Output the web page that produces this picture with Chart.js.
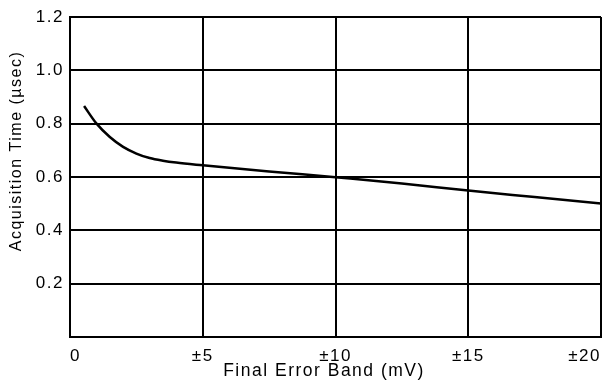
<!DOCTYPE html>
<html>
<head>
<meta charset="utf-8">
<script src="https://cdn.jsdelivr.net/npm/chart.js@4/dist/chart.umd.min.js"></script>
<style>
html,body{margin:0;padding:0;background:#fff;}
#wrap{width:607px;height:387px;position:relative;}
</style>
</head>
<body>
<div id="wrap"><canvas id="c" width="607" height="387"></canvas></div>
<script>
// Data
const errorBand = [0.53, 1.0, 1.5, 2.0, 2.5, 3.0, 3.5, 4.0, 5.0, 7.5, 10, 12.5, 15, 17.5, 20];
const acqTime   = [0.866, 0.80, 0.75, 0.713, 0.688, 0.671, 0.661, 0.654, 0.644, 0.621, 0.599, 0.576, 0.549, 0.525, 0.501];
const xTicks = [0, 5, 10, 15, 20];
const yTicks = [0.2, 0.4, 0.6, 0.8, 1.0, 1.2];
const xTitle = 'Final Error Band (mV)';
const yTitle = 'Acquisition Time (\u00b5sec)';

const FONT = '"Liberation Sans", Arial, Helvetica, sans-serif';

const spacing = {
  id: 'spacing',
  beforeInit(chart){ chart.ctx.letterSpacing = '1.5px'; },
  beforeLayout(chart){ chart.ctx.letterSpacing = '1.5px'; }
};

const titles = {
  id: 'titles',
  afterDraw(chart){
    const ctx = chart.ctx;
    ctx.save();
    ctx.letterSpacing = '1.5px';
    ctx.fillStyle = '#000';
    ctx.textAlign = 'center';
    ctx.textBaseline = 'middle';
    ctx.font = '17.5px ' + FONT;
    ctx.fillText(xTitle, 324, 371);
    ctx.translate(17, 151);
    ctx.rotate(-Math.PI/2);
    ctx.font = '16px ' + FONT;
    ctx.fillText(yTitle, 0, 0);
    ctx.restore();
  }
};

new Chart(document.getElementById('c'), {
  type: 'line',
  data: {
    datasets: [{
      data: errorBand.map((x, i) => ({x: x, y: acqTime[i]})),
      borderColor: '#000',
      borderWidth: 2.5,
      pointRadius: 0,
      fill: false,
      cubicInterpolationMode: 'monotone'
    }]
  },
  options: {
    responsive: false,
    animation: false,
    layout: { padding: { top: 17, right: 6, left: 0, bottom: 0 } },
    plugins: { legend: { display: false }, tooltip: { enabled: false } },
    scales: {
      x: {
        type: 'linear',
        min: 0, max: 20,
        afterBuildTicks: s => { s.ticks = xTicks.map(v => ({value: v})); },
        afterFit: s => { s.height = 50; s.paddingLeft = 0; s.paddingRight = 0; },
        grid: { color: '#000', lineWidth: 2, drawTicks: false },
        border: { display: true, color: '#000', width: 2 },
        ticks: {
          color: '#000',
          padding: 9,
          maxRotation: 0,
          align: 'inner',
          font: { family: FONT, size: 17 },
          callback: v => v === 0 ? '0' : '\u00b1' + v
        }
      },
      y: {
        min: 0, max: 1.2,
        afterBuildTicks: s => { s.ticks = [{value: 0}].concat(yTicks.map(v => ({value: v}))); },
        afterFit: s => { s.width = 70; },
        grid: { color: '#000', lineWidth: 2, drawTicks: false },
        border: { display: true, color: '#000', width: 2 },
        ticks: {
          color: '#000',
          padding: 6,
          font: { family: FONT, size: 17 },
          callback: v => v === 0 ? '' : Number(v).toFixed(1)
        }
      }
    }
  },
  plugins: [spacing, titles]
});
</script>
</body>
</html>
